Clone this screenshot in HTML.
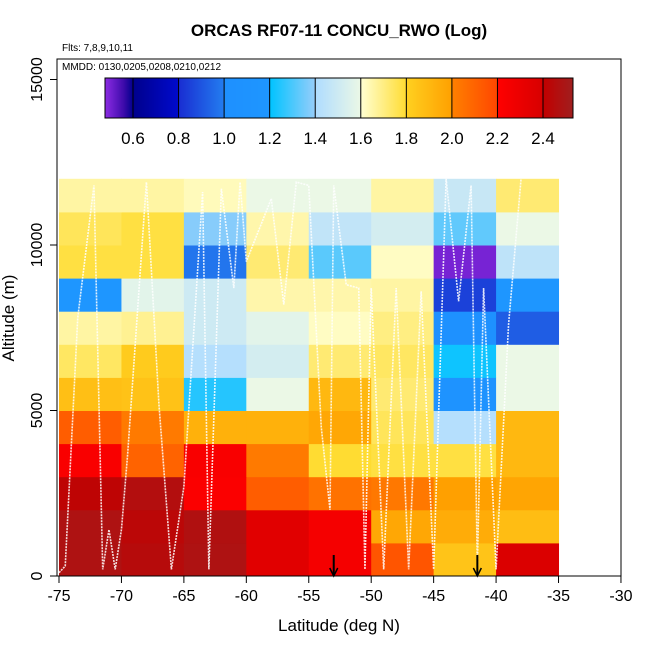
<!DOCTYPE html>
<html><head><meta charset="utf-8"><style>
body{margin:0;background:#fff;}
svg{display:block;font-family:"Liberation Sans",sans-serif;}
</style></head><body>
<svg id="chart" width="650" height="650" viewBox="0 0 650 650"></svg>
<script>
const latBins=[-75,-70,-65,-60,-55,-50,-45,-40];
const altBins=[0,1000,2000,3000,4000,5000,6000,7000,8000,9000,10000,11000];
// values[row][col], row = altitude bin from bottom
const values=[
[2.48,2.45,2.48,2.35,2.25,2.15,1.85,2.38],
[2.48,2.43,2.47,2.35,2.25,1.97,1.95,1.88],
[2.42,2.46,2.22,2.12,2.05,2.03,2.0,1.98],
[2.23,2.1,2.23,2.02,1.8,1.78,1.78,1.9],
[2.12,2.02,1.93,1.93,1.97,1.75,1.42,1.9],
[1.87,1.86,1.25,1.6,1.9,1.72,1.1,1.6],
[1.74,1.82,1.42,1.52,1.72,1.74,1.22,1.6],
[1.66,1.68,1.5,1.57,1.62,1.7,1.05,0.92],
[1.2,1.57,1.5,1.65,1.65,1.66,0.85,1.2],
[1.78,1.78,0.98,1.72,1.32,1.62,0.5,1.45],
[1.75,1.78,1.38,1.65,1.46,1.52,1.33,1.6],
[1.66,1.66,1.63,1.6,1.6,1.66,1.48,1.72]];
const xTicks=[-75,-70,-65,-60,-55,-50,-45,-40,-35,-30];
const yTicks=[0,5000,10000,15000];
const cbTicks=[0.6,0.8,1.0,1.2,1.4,1.6,1.8,2.0,2.2,2.4];
const arrowLats=[-53,-41.5];
const trackLat=[-75,-74.5,-73.5,-72.2,-71.5,-71,-70.5,-70,-69.5,-68,-67,-66,-65,-63.5,-63,-62,-61,-60.5,-60,-58,-57,-56,-55,-54,-53.3,-53,-52,-51,-50.5,-50,-49,-48,-47,-46,-45,-44,-43,-42,-41.5,-41,-40,-39,-38];
const trackAlt=[100,300,7800,11800,200,1400,200,1400,3700,11900,5200,200,2700,11600,200,11700,8700,11900,9500,11400,8200,11900,11800,4500,2000,11800,8800,8700,200,8700,200,8700,200,8600,200,12000,8300,11800,300,8700,200,7600,12000];
const NS='http://www.w3.org/2000/svg';
const svg=document.getElementById('chart');
function xS(v){return 59+(v+75)*62.44/5;}
function yS(v){return 576-v*165.5/5000;}
function cbX(v){return 133+(v-0.6)*(543-133)/1.8;}
const stops=[[0.48,[138,43,226]],[0.56,[60,10,170]],[0.6,[0,0,140]],[0.8,[0,10,205]],[0.801,[25,45,210]],[1.0,[35,125,240]],[1.001,[30,144,255]],[1.2,[30,150,255]],[1.201,[0,195,255]],[1.4,[150,205,250]],[1.401,[175,220,255]],[1.6,[235,248,230]],[1.601,[255,255,210]],[1.8,[255,220,50]],[1.801,[255,208,32]],[2.0,[255,160,0]],[2.001,[255,128,0]],[2.2,[255,70,0]],[2.201,[255,0,0]],[2.4,[215,0,0]],[2.401,[195,0,0]],[2.53,[160,30,30]]];
function col(v){
 if(v<=stops[0][0])return 'rgb('+stops[0][1]+')';
 for(let i=1;i<stops.length;i++){if(v<=stops[i][0]){const a=stops[i-1],b=stops[i];const t=(v-a[0])/(b[0]-a[0]);
 return 'rgb('+a[1].map((c,k)=>Math.round(c+(b[1][k]-c)*t)).join(',')+')';}}
 return 'rgb('+stops[stops.length-1][1]+')';}
function el(t,a,p){const e=document.createElementNS(NS,t);for(const k in a)e.setAttribute(k,a[k]);(p||svg).appendChild(e);return e;}
function txt(s,a){const e=el('text',a);e.textContent=s;return e;}
// cells
values.forEach((row,r)=>row.forEach((v,c)=>{
 const x0=xS(latBins[c]),x1=xS(latBins[c]+5),y0=yS(altBins[r]+1000),y1=yS(altBins[r]);
 const e=el('rect',{x:x0,y:y0,width:x1-x0+0.5,height:y1-y0+0.5,fill:col(v)});
 
 
}));
// track
const pts=trackLat.map((l,i)=>xS(l)+','+yS(trackAlt[i])).join(' ');
const tr=el('polyline',{points:pts,fill:'none',stroke:'#fff','stroke-width':1.6,'stroke-dasharray':'2 1',opacity:0.85});


// arrows
arrowLats.forEach(l=>{const x=xS(l);
 const a=el('g',{});
 el('line',{x1:x,y1:555,x2:x,y2:575,stroke:'#000','stroke-width':2},a);
 el('polyline',{points:(x-4)+',568 '+x+',576 '+(x+4)+',568',fill:'none',stroke:'#000','stroke-width':1.5},a);});
// frame
const fr=el('rect',{x:57,y:59,width:564,height:517,fill:'none',stroke:'#000','stroke-width':1});

// x axis
xTicks.forEach(t=>{const x=xS(t);el('line',{x1:x,y1:576,x2:x,y2:583,stroke:'#000'});
 const e=txt(String(t).replace('-','-'),{x:x,y:601,'font-size':16,'text-anchor':'middle'});
 });
yTicks.forEach(t=>{const y=yS(t);el('line',{x1:57,y1:y,x2:50,y2:y,stroke:'#000'});
 const e=txt(String(t),{x:42,y:y,'font-size':16,'text-anchor':'middle',transform:'rotate(-90 42 '+y+')'});
 });
let e=txt('Latitude (deg N)',{x:339,y:631,'font-size':17,'text-anchor':'middle'});

e=txt('Altitude (m)',{x:14,y:318,'font-size':17,'text-anchor':'middle',transform:'rotate(-90 14 318)'});

e=txt('ORCAS RF07-11 CONCU_RWO (Log)',{x:339,y:36,'font-size':17,'font-weight':'bold','text-anchor':'middle'});

e=txt('Flts: 7,8,9,10,11',{x:62,y:51,'font-size':10});

e=txt('MMDD: 0130,0205,0208,0210,0212',{x:62,y:70,'font-size':10});

// colorbar
const cb=el('g',{});
for(let x=105;x<573;x++){const v=0.6+(x+0.5-133)*1.8/(543-133);el('rect',{x:x,y:78,width:1.2,height:40,fill:col(v)},cb);}
el('rect',{x:105,y:78,width:468,height:40,fill:'none',stroke:'#000'},cb);
cbTicks.forEach(t=>{const x=cbX(t);el('line',{x1:x,y1:78,x2:x,y2:118,stroke:'#000'},cb);
 const e=txt(t.toFixed(1),{x:x,y:144,'font-size':17,'text-anchor':'middle'});
 });
</script>
</body></html>
